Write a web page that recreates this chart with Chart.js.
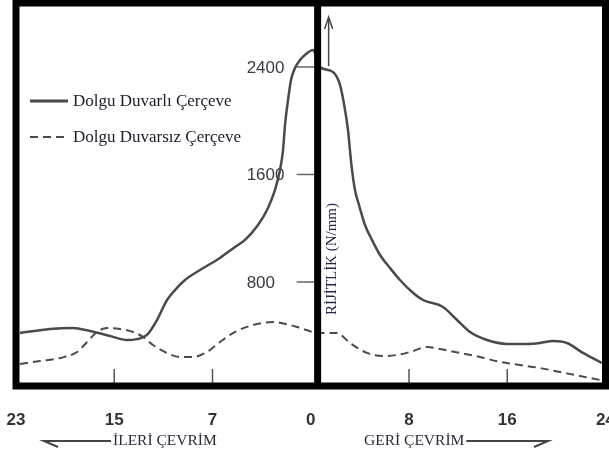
<!DOCTYPE html>
<html><head><meta charset="utf-8">
<script src="https://cdn.jsdelivr.net/npm/chart.js@4/dist/chart.umd.min.js"></script>
<style>html,body{margin:0;padding:0;background:#fff;}canvas{display:block;}</style>
</head><body>
<canvas id="c" width="609" height="456"></canvas>
<script>
// x values are in tick-step units: left half = İleri çevrim (23,15,7,0), right half = Geri çevrim (0,8,16,24)
const xTickPositions = [-3, -2, -1, 0, 1, 2, 3];
const xTickLabels = ['23', '15', '7', '0', '8', '16', '24'];
const yTickValues = [800, 1600, 2400];
const yTickLabels = ['800', '1600', '2400'];
const seriesNames = ['Dolgu Duvarlı Çerçeve', 'Dolgu Duvarsız Çerçeve'];
const yTitle = 'RİJİTLİK (N/mm)';
const leftCaption = 'İLERİ ÇEVRİM';
const rightCaption = 'GERİ ÇEVRİM';
const yAxisAt = 0.07;

const solidX = [-2.959,-2.654,-2.420,-2.247,-2.043,-1.870,-1.769,-1.667,-1.565,-1.463,-1.382,-1.280,-1.127,-0.924,-0.771,-0.669,-0.537,-0.435,-0.364,-0.313,-0.282,-0.262,-0.231,-0.201,-0.160,-0.109,-0.048,0.023,0.094,0.226,0.298,0.349,0.379,0.399,0.420,0.450,0.491,0.552,0.623,0.705,0.807,0.908,1.031,1.143,1.346,1.489,1.621,1.794,1.997,2.201,2.333,2.466,2.608,2.771,2.964];
const solidY = [420,450,458,435,398,368,375,406,517,666,740,815,889,979,1060,1113,1224,1351,1485,1634,1782,1968,2154,2303,2393,2452,2497,2527,2400,2363,2266,2080,1931,1782,1634,1485,1373,1224,1113,1001,904,815,726,666,614,517,428,368,339,339,346,361,346,272,197];

const dashedX = [-2.959,-2.756,-2.552,-2.379,-2.277,-2.176,-2.074,-1.941,-1.809,-1.707,-1.606,-1.463,-1.331,-1.198,-1.056,-0.924,-0.791,-0.588,-0.384,-0.211,-0.109,0.023,0.125,0.267,0.399,0.572,0.735,0.878,1.010,1.183,1.315,1.519,1.722,1.926,2.130,2.333,2.537,2.741,2.944];
const dashedY = [190,212,234,279,353,428,458,450,428,391,331,272,242,242,279,353,420,480,502,480,458,428,420,420,346,272,249,257,279,316,301,272,242,205,182,160,130,100,71];

const lineColor = '#4a4a4a';

const overlay = {
  id: 'overlay',
  afterDatasetsDraw(chart) {
    const ctx = chart.ctx, ca = chart.chartArea;
    const xs = chart.scales.x, ys = chart.scales.y;
    const axisX = xs.getPixelForValue(yAxisAt);
    ctx.save();
    // centre vertical axis with ticks and labels
    ctx.strokeStyle = '#000'; ctx.lineWidth = 7;
    ctx.beginPath(); ctx.moveTo(axisX, ca.top); ctx.lineTo(axisX, ca.bottom); ctx.stroke();
    ctx.strokeStyle = '#666'; ctx.lineWidth = 1.5;
    ctx.font = '17px "Liberation Sans"';
    ctx.fillStyle = '#3a3a44';
    ctx.textAlign = 'left'; ctx.textBaseline = 'middle';
    yTickValues.forEach((v, i) => {
      const py = ys.getPixelForValue(v);
      ctx.beginPath(); ctx.moveTo(axisX - 3.5, py); ctx.lineTo(axisX - 21, py); ctx.stroke();
      ctx.fillText(yTickLabels[i], axisX - 71, py + 1);
    });
    ctx.restore();
  },
  afterDraw(chart) {
    const ctx = chart.ctx, ca = chart.chartArea;
    const xs = chart.scales.x;
    const axisX = xs.getPixelForValue(yAxisAt);
    ctx.save();
    // inward tick marks on bottom
    ctx.strokeStyle = '#555'; ctx.lineWidth = 1.5;
    xTickPositions.forEach(v => {
      if (v === 0 || v === xTickPositions[0] || v === xTickPositions[xTickPositions.length - 1]) return;
      const px = xs.getPixelForValue(v);
      ctx.beginPath(); ctx.moveTo(px, ca.bottom - 3); ctx.lineTo(px, ca.bottom - 17); ctx.stroke();
    });
    // frame
    ctx.strokeStyle = '#000'; ctx.lineWidth = 7;
    ctx.strokeRect(ca.left, ca.top, ca.right - ca.left, ca.bottom - ca.top);

    // legend
    const ds = chart.data.datasets;
    const legY = [101, 137];
    ctx.font = '17px "Liberation Serif"';
    ctx.textBaseline = 'middle';
    ctx.textAlign = 'left';
    ds.forEach((d, i) => {
      ctx.strokeStyle = d.borderColor; ctx.lineWidth = i === 0 ? 3 : 2;
      ctx.setLineDash(d.borderDash || []);
      ctx.beginPath(); ctx.moveTo(ca.left + 14, legY[i]); ctx.lineTo(ca.left + 52, legY[i]); ctx.stroke();
      ctx.setLineDash([]);
      ctx.fillStyle = '#1c1c2c';
      ctx.fillText(d.label, ca.left + 57, legY[i] + 1);
    });

    // y title (rotated)
    ctx.save();
    ctx.translate(axisX + 14, 259);
    ctx.rotate(-Math.PI / 2);
    ctx.font = '15px "Liberation Serif"';
    ctx.fillStyle = '#23264a';
    ctx.textAlign = 'center'; ctx.textBaseline = 'middle';
    ctx.fillText(yTitle, 0, 0);
    ctx.restore();

    // upward arrow near top
    ctx.strokeStyle = '#444'; ctx.lineWidth = 1.5;
    const ax = axisX + 11;
    ctx.beginPath(); ctx.moveTo(ax, 66); ctx.lineTo(ax, 18); ctx.stroke();
    ctx.beginPath(); ctx.moveTo(ax - 4, 29); ctx.lineTo(ax, 17); ctx.lineTo(ax + 4, 29); ctx.stroke();

    // bottom captions with arrows
    ctx.font = '15.5px "Liberation Serif"';
    ctx.fillStyle = '#2a2a3a';
    ctx.textBaseline = 'middle';
    ctx.textAlign = 'left';
    ctx.fillText(leftCaption, 113, 441);
    ctx.fillText(rightCaption, 364, 441);
    const rEnd = 364 + ctx.measureText(rightCaption).width + 2;
    ctx.strokeStyle = '#444'; ctx.lineWidth = 2;
    ctx.beginPath(); ctx.moveTo(111, 441); ctx.lineTo(44, 441); ctx.lineTo(58, 447); ctx.stroke();
    ctx.beginPath(); ctx.moveTo(rEnd, 441); ctx.lineTo(548, 441); ctx.lineTo(534, 447); ctx.stroke();
    ctx.restore();
  }
};

new Chart(document.getElementById('c'), {
  type: 'line',
  data: {
    datasets: [
      { label: seriesNames[0], data: solidX.map((x, i) => ({ x, y: solidY[i] })), borderColor: lineColor, borderWidth: 2.5, pointRadius: 0, cubicInterpolationMode: 'monotone', fill: false },
      { label: seriesNames[1], data: dashedX.map((x, i) => ({ x, y: dashedY[i] })), borderColor: lineColor, borderWidth: 2, borderDash: [8, 5], pointRadius: 0, cubicInterpolationMode: 'monotone', fill: false }
    ]
  },
  options: {
    responsive: false, animation: false,
    layout: { autoPadding: false, padding: { left: 16, right: 3.5, top: 3, bottom: 0 } },
    plugins: { legend: { display: false }, tooltip: { enabled: false } },
    scales: {
      x: {
        type: 'linear', min: -3, max: 3,
        afterBuildTicks: s => { s.ticks = xTickPositions.map(v => ({ value: v })); },
        afterFit: s => { s.height = 70; s.paddingLeft = 0; s.paddingRight = 0; },
        ticks: { callback: (v, i) => xTickLabels[i], font: { family: '"Liberation Sans", Arial, sans-serif', weight: 'bold', size: 17 }, color: '#333', padding: 16, maxRotation: 0, autoSkip: false },
        grid: { display: false }, border: { display: false }
      },
      y: {
        type: 'linear', min: 26, max: 2876, display: false,
        afterBuildTicks: s => { s.ticks = yTickValues.map(v => ({ value: v })); }
      }
    }
  },
  plugins: [overlay]
});
</script>
</body></html>
